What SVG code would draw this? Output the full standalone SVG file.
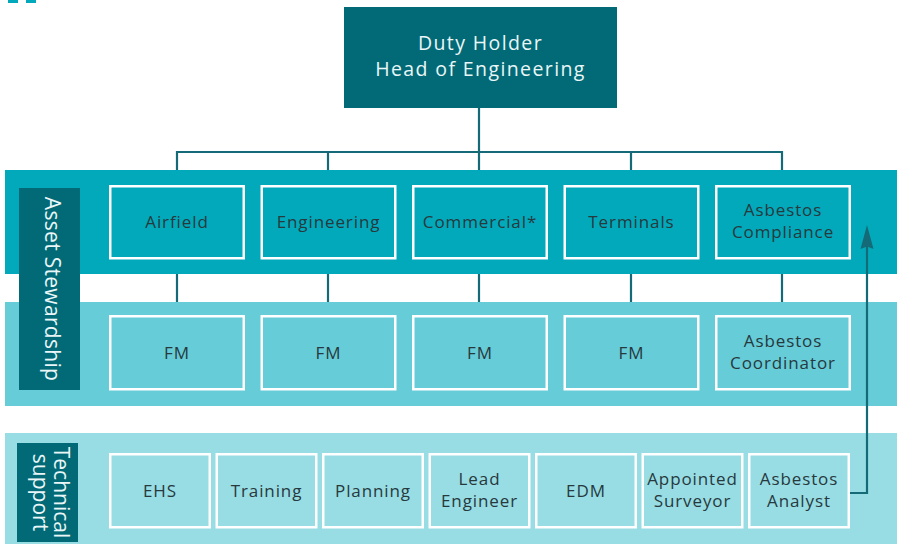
<svg xmlns="http://www.w3.org/2000/svg" width="897" height="544" viewBox="0 0 897 544">
  <style>
    .band1 { fill: #02a9bb; }
    .band2 { fill: #66ccd8; }
    .band3 { fill: #98dde4; }
    .dark { fill: #016a76; }
    .box { stroke: #ffffff; stroke-width: 2.5; }
    .b1 { fill: #02a9bb; }
    .b2 { fill: #66ccd8; }
    .b3 { fill: #98dde4; }
    .lbl { font-family: "Open Sans", "Liberation Sans", sans-serif; font-size: 17px; letter-spacing: 0.9px; fill: #27393d; text-anchor: middle; }
    .head { font-family: "Open Sans", "Liberation Sans", sans-serif; font-size: 19.5px; letter-spacing: 1.4px; fill: #eaf6f7; text-anchor: middle; }
    .side { font-family: "Open Sans", "Liberation Sans", sans-serif; font-size: 21px; fill: #eaf6f7; text-anchor: middle; }
    .conn { stroke: #146b77; stroke-width: 2.2; fill: none; }
    .head-arrow { fill: #146b77; }
  </style>

  <rect x="8" y="0" width="10" height="3" class="band1"/>
  <rect x="26" y="0" width="10" height="3" class="band1"/>

  <!-- hierarchy lines (drawn beneath the bands) -->
  <g id="connectors">
    <path class="conn" d="M479,108 V170 M177,171 V152 H782 V171 M328,152 V171 M631,152 V171"/>
    <path class="conn" d="M177,272 V304 M328,272 V304 M479,272 V304 M631,272 V304 M782,272 V304"/>
  </g>

  <!-- bands -->
  <rect x="5" y="170" width="892" height="104" class="band1"/>
  <rect x="5" y="302" width="892" height="104" class="band2"/>
  <rect x="5" y="433" width="892" height="111" class="band3"/>

  <g id="duty-holder">
    <rect x="344" y="7" width="273" height="101" class="dark"/>
    <text class="head" x="480.5" y="50">Duty Holder</text>
    <text class="head" x="480.5" y="76">Head of Engineering</text>
  </g>

  <g id="asset-stewardship">
    <rect x="19" y="188" width="61" height="202" class="dark"/>
    <text class="side" transform="translate(45,289) rotate(90)" letter-spacing="0.3">Asset Stewardship</text>
  </g>

  <g id="technical-support">
    <rect x="17" y="443" width="61" height="99" class="dark"/>
    <text class="side" transform="translate(54,492.5) rotate(90)">Technical</text>
    <text class="side" transform="translate(33,492.5) rotate(90)">support</text>
  </g>

  <!-- stewardship row -->
  <g id="airfield"><rect x="110.25" y="186.25" width="133.5" height="72" class="box b1"/><text class="lbl" x="177" y="227.5">Airfield</text></g>
  <g id="engineering"><rect x="261.75" y="186.25" width="133.5" height="72" class="box b1"/><text class="lbl" x="328.5" y="227.5">Engineering</text></g>
  <g id="commercial"><rect x="413.25" y="186.25" width="133.5" height="72" class="box b1"/><text class="lbl" x="480" y="227.5">Commercial*</text></g>
  <g id="terminals"><rect x="564.75" y="186.25" width="133.5" height="72" class="box b1"/><text class="lbl" x="631.5" y="227.5">Terminals</text></g>
  <g id="asbestos-compliance"><rect x="716.25" y="186.25" width="133.5" height="72" class="box b1"/><text class="lbl" x="783" y="216">Asbestos</text><text class="lbl" x="783" y="238">Compliance</text></g>

  <!-- facilities row -->
  <g id="fm-1"><rect x="110.25" y="316.25" width="133.5" height="73" class="box b2"/><text class="lbl" x="177" y="358.5">FM</text></g>
  <g id="fm-2"><rect x="261.75" y="316.25" width="133.5" height="73" class="box b2"/><text class="lbl" x="328.5" y="358.5">FM</text></g>
  <g id="fm-3"><rect x="413.25" y="316.25" width="133.5" height="73" class="box b2"/><text class="lbl" x="480" y="358.5">FM</text></g>
  <g id="fm-4"><rect x="564.75" y="316.25" width="133.5" height="73" class="box b2"/><text class="lbl" x="631.5" y="358.5">FM</text></g>
  <g id="asbestos-coordinator"><rect x="716.25" y="316.25" width="133.5" height="73" class="box b2"/><text class="lbl" x="783" y="347">Asbestos</text><text class="lbl" x="783" y="368.5">Coordinator</text></g>

  <!-- technical support row -->
  <g id="ehs"><rect x="110.25" y="454.25" width="99.5" height="73" class="box b3"/><text class="lbl" x="160" y="497">EHS</text></g>
  <g id="training"><rect x="216.75" y="454.25" width="99.5" height="73" class="box b3"/><text class="lbl" x="266.5" y="497">Training</text></g>
  <g id="planning"><rect x="323.25" y="454.25" width="99.5" height="73" class="box b3"/><text class="lbl" x="373" y="497">Planning</text></g>
  <g id="lead-engineer"><rect x="429.75" y="454.25" width="99.5" height="73" class="box b3"/><text class="lbl" x="479.5" y="485">Lead</text><text class="lbl" x="479.5" y="507">Engineer</text></g>
  <g id="edm"><rect x="536.25" y="454.25" width="99.5" height="73" class="box b3"/><text class="lbl" x="586" y="497">EDM</text></g>
  <g id="appointed-surveyor"><rect x="642.75" y="454.25" width="99.5" height="73" class="box b3"/><text class="lbl" x="692.5" y="485">Appointed</text><text class="lbl" x="692.5" y="507">Surveyor</text></g>
  <g id="asbestos-analyst"><rect x="749.25" y="454.25" width="99.5" height="73" class="box b3"/><text class="lbl" x="799" y="485">Asbestos</text><text class="lbl" x="799" y="507">Analyst</text></g>

  <!-- reporting line from analyst up to compliance -->
  <g id="reporting">
    <path class="conn" d="M850,493 H867 V244"/>
    <polygon class="head-arrow" points="867,225 873.5,249 867,246.5 860.5,249"/>
  </g>
</svg>
